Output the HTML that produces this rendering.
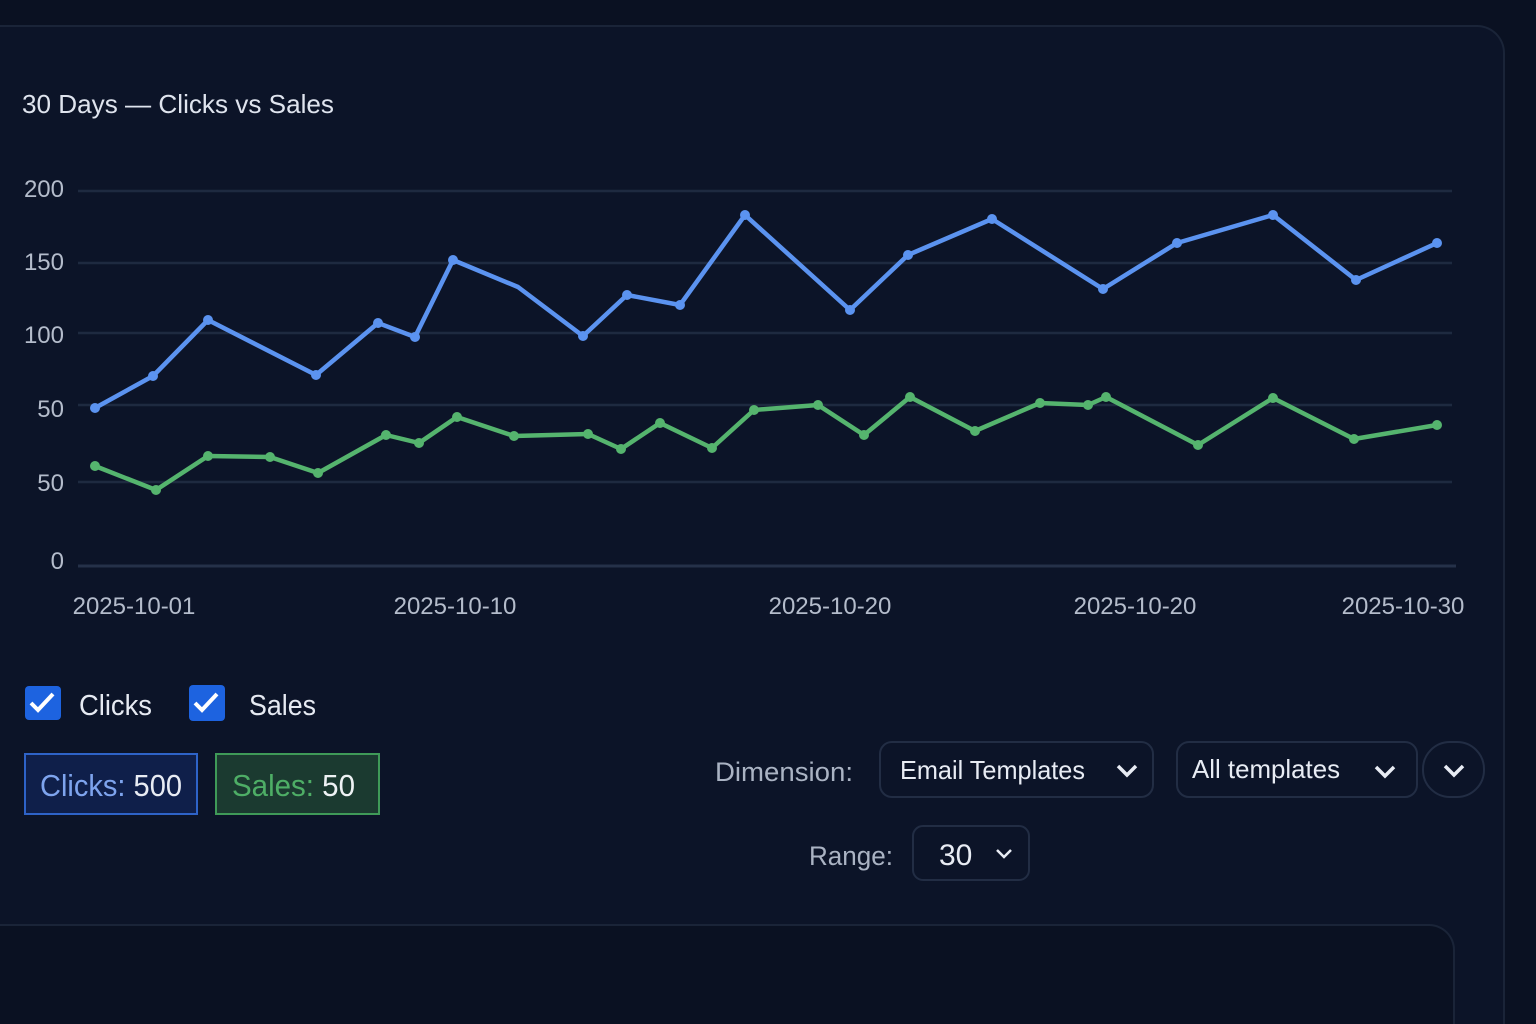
<!DOCTYPE html>
<html><head><meta charset="utf-8"><style>
html,body{margin:0;padding:0;width:1536px;height:1024px;overflow:hidden;background:#0a1122;font-family:"Liberation Sans",sans-serif;position:relative}
.abs{position:absolute}
</style></head><body>
<div class="abs" style="left:0;top:25px;width:1505px;height:999px;border:2px solid #1a2438;border-left:none;border-bottom:none;border-top-right-radius:28px;background:#0c1428;box-sizing:border-box"></div>
<div class="abs" style="left:0;top:924px;width:1455px;height:100px;border:2px solid #1a2438;border-left:none;border-bottom:none;border-top-right-radius:26px;background:#0a1122;box-sizing:border-box"></div>
<svg class="abs" style="left:0;top:0" width="1536" height="1024">
<g fill="#dfe4ee" font-size="26" font-family="Liberation Sans, sans-serif">
<text x="22" y="113" textLength="312" lengthAdjust="spacingAndGlyphs">30 Days — Clicks vs Sales</text>
</g>
<g stroke="#1e2a40" stroke-width="2.5">
<line x1="78" y1="191" x2="1452" y2="191"/><line x1="78" y1="263" x2="1452" y2="263"/>
<line x1="78" y1="333" x2="1452" y2="333"/><line x1="78" y1="405" x2="1452" y2="405"/>
<line x1="78" y1="482" x2="1452" y2="482"/><line x1="78" y1="566" x2="1456" y2="566" stroke="#253149" stroke-width="3"/>
</g>
<g fill="#b4bccb" font-size="24" text-anchor="end">
<text x="64" y="197">200</text><text x="64" y="270">150</text><text x="64" y="343">100</text>
<text x="64" y="417">50</text><text x="64" y="491">50</text><text x="64" y="569">0</text>
</g>
<g fill="#b4bccb" font-size="24" text-anchor="middle">
<text x="134" y="614">2025-10-01</text><text x="455" y="614">2025-10-10</text>
<text x="830" y="614">2025-10-20</text><text x="1135" y="614">2025-10-20</text><text x="1403" y="614">2025-10-30</text>
</g>
<polyline fill="none" stroke="#5b93f0" stroke-width="4.5" stroke-linejoin="round" points="95,408 153,376 208,320 316,375 378,323 415,337 453,260 518,287 583,336 627,295 680,305 745,215 850,310 908,255 992,219 1103,289 1177,243 1273,215 1356,280 1437,243"/>
<g fill="#5b93f0">
<circle cx="95" cy="408" r="5"/><circle cx="153" cy="376" r="5"/><circle cx="208" cy="320" r="5"/><circle cx="316" cy="375" r="5"/><circle cx="378" cy="323" r="5"/><circle cx="415" cy="337" r="5"/><circle cx="453" cy="260" r="5"/><circle cx="583" cy="336" r="5"/><circle cx="627" cy="295" r="5"/><circle cx="680" cy="305" r="5"/><circle cx="745" cy="215" r="5"/><circle cx="850" cy="310" r="5"/><circle cx="908" cy="255" r="5"/><circle cx="992" cy="219" r="5"/><circle cx="1103" cy="289" r="5"/><circle cx="1177" cy="243" r="5"/><circle cx="1273" cy="215" r="5"/><circle cx="1356" cy="280" r="5"/><circle cx="1437" cy="243" r="5"/>
</g>
<polyline fill="none" stroke="#55b46e" stroke-width="4.5" stroke-linejoin="round" points="95,466 156,490 208,456 270,457 318,473 386,435 419,443 457,417 514,436 588,434 621,449 660,423 712,448 754,410 818,405 864,435 910,397 975,431 1040,403 1088,405 1106,397 1198,445 1273,398 1354,439 1437,425"/>
<g fill="#55b46e">
<circle cx="95" cy="466" r="5"/><circle cx="156" cy="490" r="5"/><circle cx="208" cy="456" r="5"/><circle cx="270" cy="457" r="5"/><circle cx="318" cy="473" r="5"/><circle cx="386" cy="435" r="5"/><circle cx="419" cy="443" r="5"/><circle cx="457" cy="417" r="5"/><circle cx="514" cy="436" r="5"/><circle cx="588" cy="434" r="5"/><circle cx="621" cy="449" r="5"/><circle cx="660" cy="423" r="5"/><circle cx="712" cy="448" r="5"/><circle cx="754" cy="410" r="5"/><circle cx="818" cy="405" r="5"/><circle cx="864" cy="435" r="5"/><circle cx="910" cy="397" r="5"/><circle cx="975" cy="431" r="5"/><circle cx="1040" cy="403" r="5"/><circle cx="1088" cy="405" r="5"/><circle cx="1106" cy="397" r="5"/><circle cx="1198" cy="445" r="5"/><circle cx="1273" cy="398" r="5"/><circle cx="1354" cy="439" r="5"/><circle cx="1437" cy="425" r="5"/>
</g>
<rect x="25" y="686" width="36" height="34" rx="4" fill="#1d63e0"/>
<path d="M31 703 l7 7 l15 -16" stroke="#fff" stroke-width="4" fill="none"/>
<rect x="189" y="685" width="36" height="36" rx="4" fill="#1d63e0"/>
<path d="M195 703 l7 7 l15 -16" stroke="#fff" stroke-width="4" fill="none"/>
<g fill="#e6eaf2" font-size="29"><text x="79" y="715" textLength="73" lengthAdjust="spacingAndGlyphs">Clicks</text><text x="249" y="715" textLength="67" lengthAdjust="spacingAndGlyphs">Sales</text></g>
<rect x="25" y="754" width="172" height="60" fill="#0f1f4a" stroke="#2e63c8" stroke-width="2"/>
<text x="40" y="796" font-size="31" fill="#7ea4ee" textLength="142" lengthAdjust="spacingAndGlyphs">Clicks: <tspan fill="#e8ecf4">500</tspan></text>
<rect x="216" y="754" width="163" height="60" fill="#1b3a30" stroke="#3f9a58" stroke-width="2"/>
<text x="232" y="796" font-size="31" fill="#4eae66" textLength="123" lengthAdjust="spacingAndGlyphs">Sales: <tspan fill="#eef2f4">50</tspan></text>
<g fill="#aab3c3" font-size="27"><text x="715" y="781" textLength="138" lengthAdjust="spacingAndGlyphs">Dimension:</text><text x="809" y="865" textLength="84" lengthAdjust="spacingAndGlyphs">Range:</text></g>
<rect x="880" y="742" width="273" height="55" rx="12" fill="#0c1428" stroke="#222d44" stroke-width="2"/>
<text x="900" y="779" font-size="26" fill="#e8ecf4" textLength="185" lengthAdjust="spacingAndGlyphs">Email Templates</text>
<path d="M1118 766 l9 9 l9 -9" stroke="#e8ecf4" stroke-width="3.5" fill="none"/>
<rect x="1177" y="742" width="240" height="55" rx="12" fill="#0c1428" stroke="#222d44" stroke-width="2"/>
<text x="1192" y="778" font-size="26" fill="#e8ecf4" textLength="148" lengthAdjust="spacingAndGlyphs">All templates</text>
<path d="M1376 767 l9 9 l9 -9" stroke="#e8ecf4" stroke-width="3.5" fill="none"/>
<rect x="1423" y="742" width="61" height="55" rx="27" fill="#0c1428" stroke="#222d44" stroke-width="2"/>
<path d="M1445 766 l9 9 l9 -9" stroke="#e8ecf4" stroke-width="3.5" fill="none"/>
<rect x="913" y="826" width="116" height="54" rx="10" fill="#0c1428" stroke="#222d44" stroke-width="2"/>
<text x="939" y="865" font-size="30" fill="#e8ecf4">30</text>
<path d="M997 850 l7 7 l7 -7" stroke="#e8ecf4" stroke-width="2.5" fill="none"/>
</svg>
</body></html>
